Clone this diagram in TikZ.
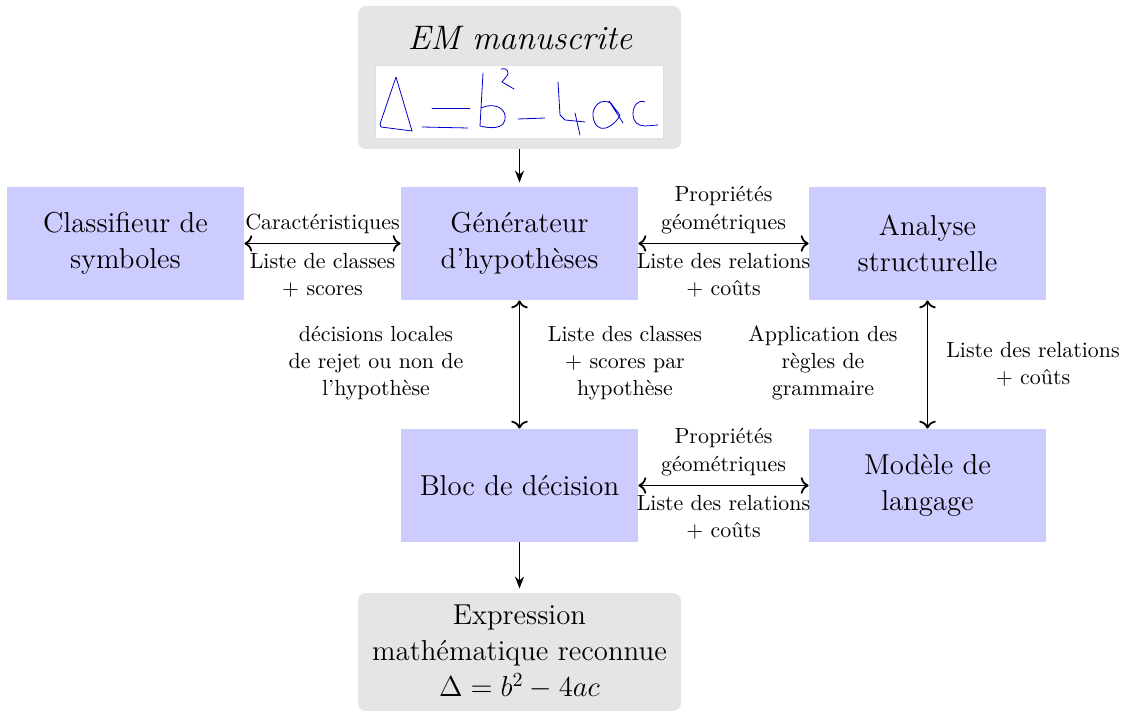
\documentclass[tikz,border=0pt]{standalone}
\usetikzlibrary{arrows.meta}
\begin{document}
\begin{tikzpicture}[x=0.5pt,y=-0.5pt,
  bluebox/.style={fill=blue!20, minimum width=118.5pt, minimum height=56.5pt, align=center, inner sep=0pt, font=\fontsize{14.4}{18}\selectfont},
  graybox/.style={fill=black!10, rounded corners=4pt, minimum width=161.5pt, align=center, inner sep=0pt, font=\fontsize{14.4}{18}\selectfont},
  lbl/.style={align=center, font=\fontsize{10.95}{13.6}\selectfont, inner sep=4.5pt},
  dbl/.style={line width=0.9pt, {Computer Modern Rightarrow[scale=1.1]}-{Computer Modern Rightarrow[scale=1.1]}},
  down/.style={line width=0.9pt, shorten >=2pt, -{Stealth[length=6pt,width=4.5pt]}},
  hand/.style={blue!80!black, line width=0.4pt, line join=round, line cap=round}]
\useasboundingbox (0,0) rectangle (1129,711);

% top box
\node[graybox, minimum height=71.5pt] (em) at (519.5,77.5) {};
\node[font=\fontsize{17}{20}\selectfont\itshape] (emt) at (520,38) {EM manuscrite};
\draw[fill=white, draw=black!12] (375,65) rectangle (663,138);
\draw[hand] (396,77) -- (380,124) -- (381,127) -- (412,131) -- cycle;
\draw[hand] (432,108) -- (470,108);
\draw[hand] (422,127) -- (468,128);
\draw[hand] (483,73) -- (480,126);
\draw[hand] (481,108) .. controls (500,100) and (510,114) .. (503,124) .. controls (498,129) and (488,128) .. (480,126);
\draw[hand] (501,69) .. controls (506,67) and (511,72) .. (506,77) -- (502,82) -- (514,89);
\draw[hand] (518,119) -- (545,118);
\draw[hand] (558,82) -- (560,115) -- (565,120) -- (585,122);
\draw[hand] (575,113) -- (580,135);
\draw[hand] (612,104) .. controls (600,96) and (592,108) .. (593,116) .. controls (594,126) and (600,130) .. (606,128) .. controls (614,125) and (619,118) .. (620,115) -- (609,101) -- (623,123);
\draw[hand] (645,102) .. controls (638,99) and (633,106) .. (633,114) .. controls (633,122) and (638,126) .. (645,126) -- (658,125);

% main boxes
\node[bluebox] (clf) at (125.5,243.5) {Classifieur de\\symboles};
\node[bluebox] (gen) at (519.5,243.5) {Générateur\\d'hypothèses};
\node[bluebox] (ana) at (927.5,243.5) {Analyse\\structurelle};
\node[bluebox] (dec) at (519.5,485.5) {Bloc de décision};
\node[bluebox] (lang) at (927.5,485.5) {Modèle de\\langage};
\node[graybox, minimum height=59pt] (res) at (519.5,652) {Expression\\mathématique reconnue\\$\Delta = b^2 - 4ac$};

% connectors
\draw[down] (em) -- (gen);
\draw[down] (dec) -- (res);
\draw[dbl] (clf) -- (gen)
  node[lbl, midway, above] {Caractéristiques}
  node[lbl, midway, below] {Liste de classes\\+ scores};
\draw[dbl] (gen) -- (ana)
  node[lbl, midway, above] {Propriétés\\géométriques}
  node[lbl, midway, below] {Liste des relations\\+ coûts};
\draw[dbl] (dec) -- (lang)
  node[lbl, midway, above] {Propriétés\\géométriques}
  node[lbl, midway, below] {Liste des relations\\+ coûts};
\draw[dbl] (gen) -- (dec);
\draw[dbl] (ana) -- (lang);

% vertical labels
\node[lbl] (l1) at (376,363) {décisions locales\\de rejet ou non de\\l'hypothèse};
\node[lbl] (l2) at (625,363) {Liste des classes\\+ scores par\\hypothèse};
\node[lbl] (l3) at (823,363) {Application des\\règles de\\grammaire};
\node[lbl] (l4) at (1033,364) {Liste des relations\\+ coûts};
\end{tikzpicture}
\end{document}
